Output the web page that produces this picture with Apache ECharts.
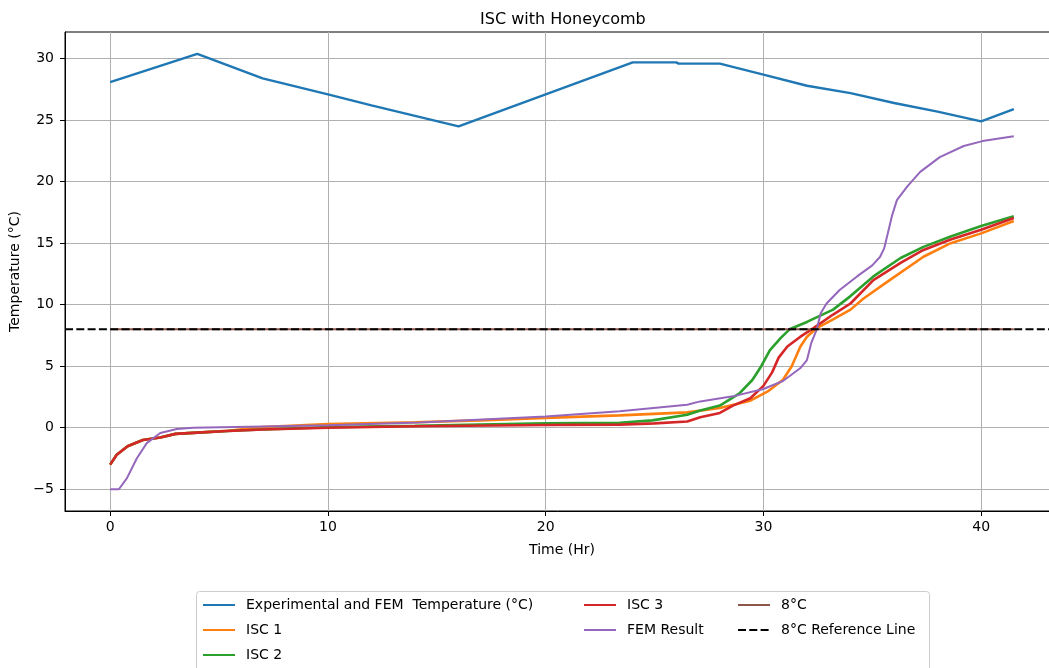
<!DOCTYPE html>
<html>
<head>
<meta charset="utf-8">
<script src="https://cdn.jsdelivr.net/npm/echarts@6/dist/echarts.min.js"></script>
<style>html,body{margin:0;padding:0;background:#fff}#c{width:1049px;height:668px}</style>
</head>
<body>
<div id="c"></div>
<script>
// ---- data ----
const xTicks = [0, 10, 20, 30, 40];
const yTicks = [-5, 0, 5, 10, 15, 20, 25, 30];
const X_MIN = -2.075, X_MAX = 43.575, Y_MIN = -6.77, Y_MAX = 32.17;
const REF_LEVEL = 8;

const expT = [0, 4, 7, 10, 12, 16, 20, 24, 26, 26.1, 28, 30, 32, 34, 36, 38, 40, 41.5];
const expV = [28.1, 30.4, 28.4, 27.1, 26.2, 24.5, 27.1, 29.7, 29.7, 29.6, 29.6, 28.7, 27.8, 27.2, 26.4, 25.7, 24.9, 25.9];

const isc1T = [0, 0.3, 0.8, 1.5, 2.3, 3, 4, 5.4, 7, 10, 14, 17, 20, 23.4, 26.5, 28, 29.4, 30.2, 30.9, 31.3, 31.7, 32.0, 32.45, 33.2, 34, 34.6, 35.8, 37.35, 38.6, 40, 41.5];
const isc1V = [-3.0, -2.2, -1.5, -1.0, -0.8, -0.5, -0.4, -0.25, 0.05, 0.3, 0.45, 0.6, 0.8, 1.0, 1.25, 1.6, 2.2, 2.95, 3.9, 5.0, 6.6, 7.4, 8.1, 8.8, 9.6, 10.5, 12.0, 13.9, 15.0, 15.8, 16.8];

const isc2T = [0, 0.3, 0.8, 1.5, 2.3, 3, 4, 5.4, 7, 10, 14, 20, 23.4, 24.9, 26.5, 27.1, 28, 28.9, 29.5, 29.9, 30.3, 30.8, 31.2, 32.0, 33.2, 34, 35.05, 36.3, 37.35, 38.6, 40, 41.5];
const isc2V = [-3.0, -2.2, -1.5, -1.0, -0.8, -0.5, -0.4, -0.27, -0.15, 0.05, 0.15, 0.35, 0.4, 0.6, 1.05, 1.4, 1.8, 2.8, 3.9, 5.0, 6.3, 7.3, 8.0, 8.6, 9.6, 10.7, 12.3, 13.8, 14.7, 15.55, 16.4, 17.2];

const isc3T = [0, 0.3, 0.8, 1.5, 2.3, 3, 4, 5.4, 7, 10, 14, 20, 23.4, 25, 26.5, 27.1, 28, 28.6, 29.4, 30.0, 30.4, 30.7, 31.1, 31.7, 32.3, 33.2, 34, 35.05, 36.3, 37.35, 38.6, 40, 41.5];
const isc3V = [-3.0, -2.2, -1.5, -1.0, -0.8, -0.5, -0.4, -0.27, -0.15, 0.0, 0.12, 0.22, 0.25, 0.35, 0.5, 0.85, 1.2, 1.8, 2.4, 3.4, 4.5, 5.7, 6.6, 7.4, 8.1, 9.2, 10.1, 12.0, 13.4, 14.45, 15.3, 16.1, 17.05];

const femT = [0, 0.4, 0.77, 1.22, 1.68, 2.3, 3.06, 3.8, 7, 10, 14.2, 20, 23.4, 26.5, 27.1, 28.6, 30.0, 30.9, 31.7, 32.0, 32.2, 32.45, 32.63, 32.9, 33.5, 34.3, 35.0, 35.36, 35.55, 35.7, 35.9, 36.13, 36.6, 37.2, 38.1, 39.2, 40.06, 41.5];
const femV = [-5, -5, -4.1, -2.5, -1.25, -0.43, -0.1, 0.0, 0.1, 0.2, 0.43, 0.92, 1.33, 1.87, 2.14, 2.55, 3.15, 3.8, 4.85, 5.5, 6.9, 8.0, 9.3, 10.1, 11.2, 12.3, 13.2, 13.9, 14.6, 15.7, 17.2, 18.5, 19.6, 20.8, 22.0, 22.9, 23.3, 23.7];

const eightT = [0, 41.5];
const eightV = [REF_LEVEL, REF_LEVEL];

const names = ['Experimental and FEM  Temperature (°C)', 'ISC 1', 'ISC 2', 'ISC 3', 'FEM Result', '8°C', '8°C Reference Line'];
const colors = ['#1f77b4', '#ff7f0e', '#2ca02c', '#d62728', '#9467bd', '#8c564b', '#000000'];
const widths = [2.4, 2.6, 2.6, 2.6, 2, 2, 2];

const zip = (a, b) => a.map((t, i) => [t, b[i]]);
const FONT = 'DejaVu Sans';

const chart = echarts.init(document.getElementById('c'), null, {renderer: 'canvas'});

function lineSeries(i, data, extra) {
  return Object.assign({
    name: names[i], type: 'line', data: data, symbol: 'none', showSymbol: false,
    lineStyle: {color: colors[i], width: widths[i]}, itemStyle: {color: colors[i]},
    animation: false, z: 2 + i
  }, extra || {});
}

const legendBase = {
  orient: 'vertical', itemWidth: 32, itemHeight: 14, itemGap: 11, padding: 0,
  selectedMode: false,
  itemStyle: {opacity: 0, borderWidth: 0},
  lineStyle: {width: 2},
  textStyle: {fontFamily: FONT, fontSize: 14, color: '#000', padding: [0, 0, 0, 6]}
};

chart.setOption({
  backgroundColor: '#fff',
  animation: false,
  title: {
    text: 'ISC with Honeycomb', left: 475, top: 7,
    textStyle: {fontFamily: FONT, fontSize: 16, fontWeight: 'normal', color: '#000'}
  },
  grid: {left: 65, top: 32, width: 994, height: 479, outerBoundsMode: 'none', containLabel: false,
    show: true, borderColor: '#000', borderWidth: 1, backgroundColor: 'transparent'},
  xAxis: {
    type: 'value', min: X_MIN, max: X_MAX,
    name: 'Time (Hr)', nameLocation: 'middle', nameGap: 32,
    nameTextStyle: {fontFamily: FONT, fontSize: 14, color: '#000'},
    axisLine: {show: true, onZero: false, lineStyle: {color: '#000', width: 1}},
    axisTick: {show: true, length: 5, customValues: xTicks, lineStyle: {color: '#000'}},
    axisLabel: {customValues: xTicks, margin: 9, fontFamily: FONT, fontSize: 14, color: '#000'},
    splitLine: {show: true, lineStyle: {color: '#b0b0b0', width: 1}}
  },
  yAxis: {
    type: 'value', min: Y_MIN, max: Y_MAX,
    name: 'Temperature (°C)', nameLocation: 'middle', nameGap: 39,
    nameTextStyle: {fontFamily: FONT, fontSize: 14, color: '#000'},
    axisLine: {show: true, onZero: false, lineStyle: {color: '#000', width: 1}},
    axisTick: {show: true, length: 5, customValues: yTicks, lineStyle: {color: '#000'}},
    axisLabel: {customValues: yTicks, margin: 11, fontFamily: FONT, fontSize: 14, color: '#000',
      formatter: v => (v < 0 ? '\u2212' + Math.abs(v) : String(v))},
    splitLine: {show: true, lineStyle: {color: '#b0b0b0', width: 1}}
  },
  legend: [
    Object.assign({}, legendBase, {left: 202, top: 598, data: [names[0], names[1], names[2]]}),
    Object.assign({}, legendBase, {left: 583, top: 598, data: [names[3], names[4]]}),
    Object.assign({}, legendBase, {left: 737, top: 598, data: [names[5], names[6]]})
  ],
  graphic: [{
    type: 'rect', left: 196, top: 591, z: -1,
    shape: {width: 733, height: 100, r: 3},
    style: {fill: 'rgba(255,255,255,0.8)', stroke: '#cccccc', lineWidth: 1}
  }],
  series: [
    lineSeries(0, zip(expT, expV)),
    lineSeries(1, zip(isc1T, isc1V)),
    lineSeries(2, zip(isc2T, isc2V)),
    lineSeries(3, zip(isc3T, isc3V)),
    lineSeries(4, zip(femT, femV)),
    lineSeries(5, zip(eightT, eightV)),
    lineSeries(6, [[X_MIN, REF_LEVEL], [X_MAX, REF_LEVEL]], {lineStyle: {color: '#000', width: 2, type: [8, 3.3]}})
  ]
});
</script>
</body>
</html>
